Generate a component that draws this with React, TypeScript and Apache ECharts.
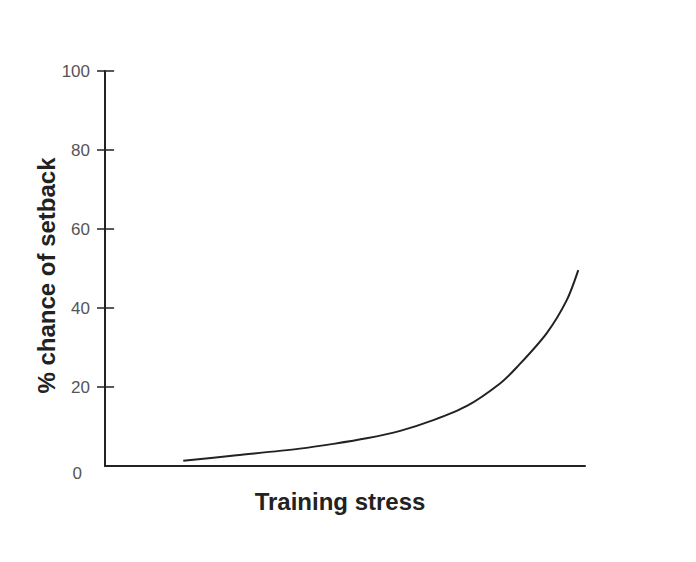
import React, { useEffect, useRef } from "react";
import * as echarts from "echarts";

const stressValues = [16.3, 27.4, 40.6, 47.6, 54.5, 61.5, 68.4, 75.4, 82.3, 85.8, 92.0, 96.2, 98.6];
const setbackChance = [1.3, 2.7, 4.4, 5.6, 7.0, 8.9, 11.6, 15.2, 20.9, 25.0, 33.6, 42.0, 49.6];
const yTickValues = [20, 40, 60, 80, 100];
const xAxisTitle = "Training stress";
const yAxisTitle = "% chance of setback";

const FONT = "'Liberation Sans', Arial, Helvetica, sans-serif";

export default function App() {
  const ref = useRef<HTMLDivElement>(null);
  useEffect(() => {
    if (!ref.current) return;
    const chart = echarts.init(ref.current, null, { renderer: "svg" });
    const data = stressValues.map((x, i) => [x, setbackChance[i]]);
    const innerTickSpan = 1.9; // in x-axis units (~9px)
    const innerTicks = yTickValues.map((v) => [
      { coord: [0, v] },
      { coord: [innerTickSpan, v] },
    ]);
    chart.setOption({
      animation: false,
      backgroundColor: "#ffffff",
      grid: { left: 105, right: 111, top: 71, bottom: 96 },
      xAxis: {
        type: "value",
        min: 0,
        max: 100,
        axisLine: { show: true, lineStyle: { color: "#222", width: 2 } },
        axisTick: { show: false },
        axisLabel: { show: false },
        splitLine: { show: false },
        name: xAxisTitle,
        nameLocation: "middle",
        nameGap: 23,
        nameMoveOverlap: false,
        nameTextStyle: {
          fontFamily: FONT,
          fontWeight: "bold",
          fontSize: 24,
          color: "#222",
          verticalAlign: "top",
          padding: [0, 10, 0, 0],
        },
      },
      yAxis: {
        type: "value",
        min: 0,
        max: 100,
        interval: 20,
        axisLine: { show: true, lineStyle: { color: "#222", width: 2 } },
        axisTick: {
          show: true,
          inside: false,
          length: 8,
          customValues: yTickValues,
          lineStyle: { color: "#222", width: 1.5 },
        },
        axisLabel: {
          margin: 15,
          fontFamily: FONT,
          fontSize: 17,
          color: "#555",
          formatter: (v: number) => (v === 0 ? "{z|0}" : String(v)),
          rich: {
            z: {
              fontFamily: FONT,
              fontSize: 17,
              color: "#555",
              padding: [14, 8, 0, 0],
            },
          },
        },
        splitLine: { show: false },
        name: yAxisTitle,
        nameLocation: "middle",
        nameGap: 47,
        nameMoveOverlap: false,
        nameRotate: 90,
        nameTextStyle: {
          fontFamily: FONT,
          fontWeight: "bold",
          fontSize: 24,
          color: "#222",
          padding: [0, 14, 0, 0],
        },
      },
      series: [
        {
          type: "line",
          data,
          smooth: 0.3,
          symbol: "none",
          lineStyle: { color: "#222", width: 2 },
          markLine: {
            silent: true,
            symbol: ["none", "none"],
            label: { show: false },
            lineStyle: { color: "#222", width: 1.5, type: "solid" },
            emphasis: { disabled: true },
            data: innerTicks,
          },
        },
      ],
    });
    return () => chart.dispose();
  }, []);
  return (
    <div
      ref={ref}
      style={{ position: "fixed", left: 0, top: 0, width: 696, height: 562, background: "#fff" }}
    />
  );
}
